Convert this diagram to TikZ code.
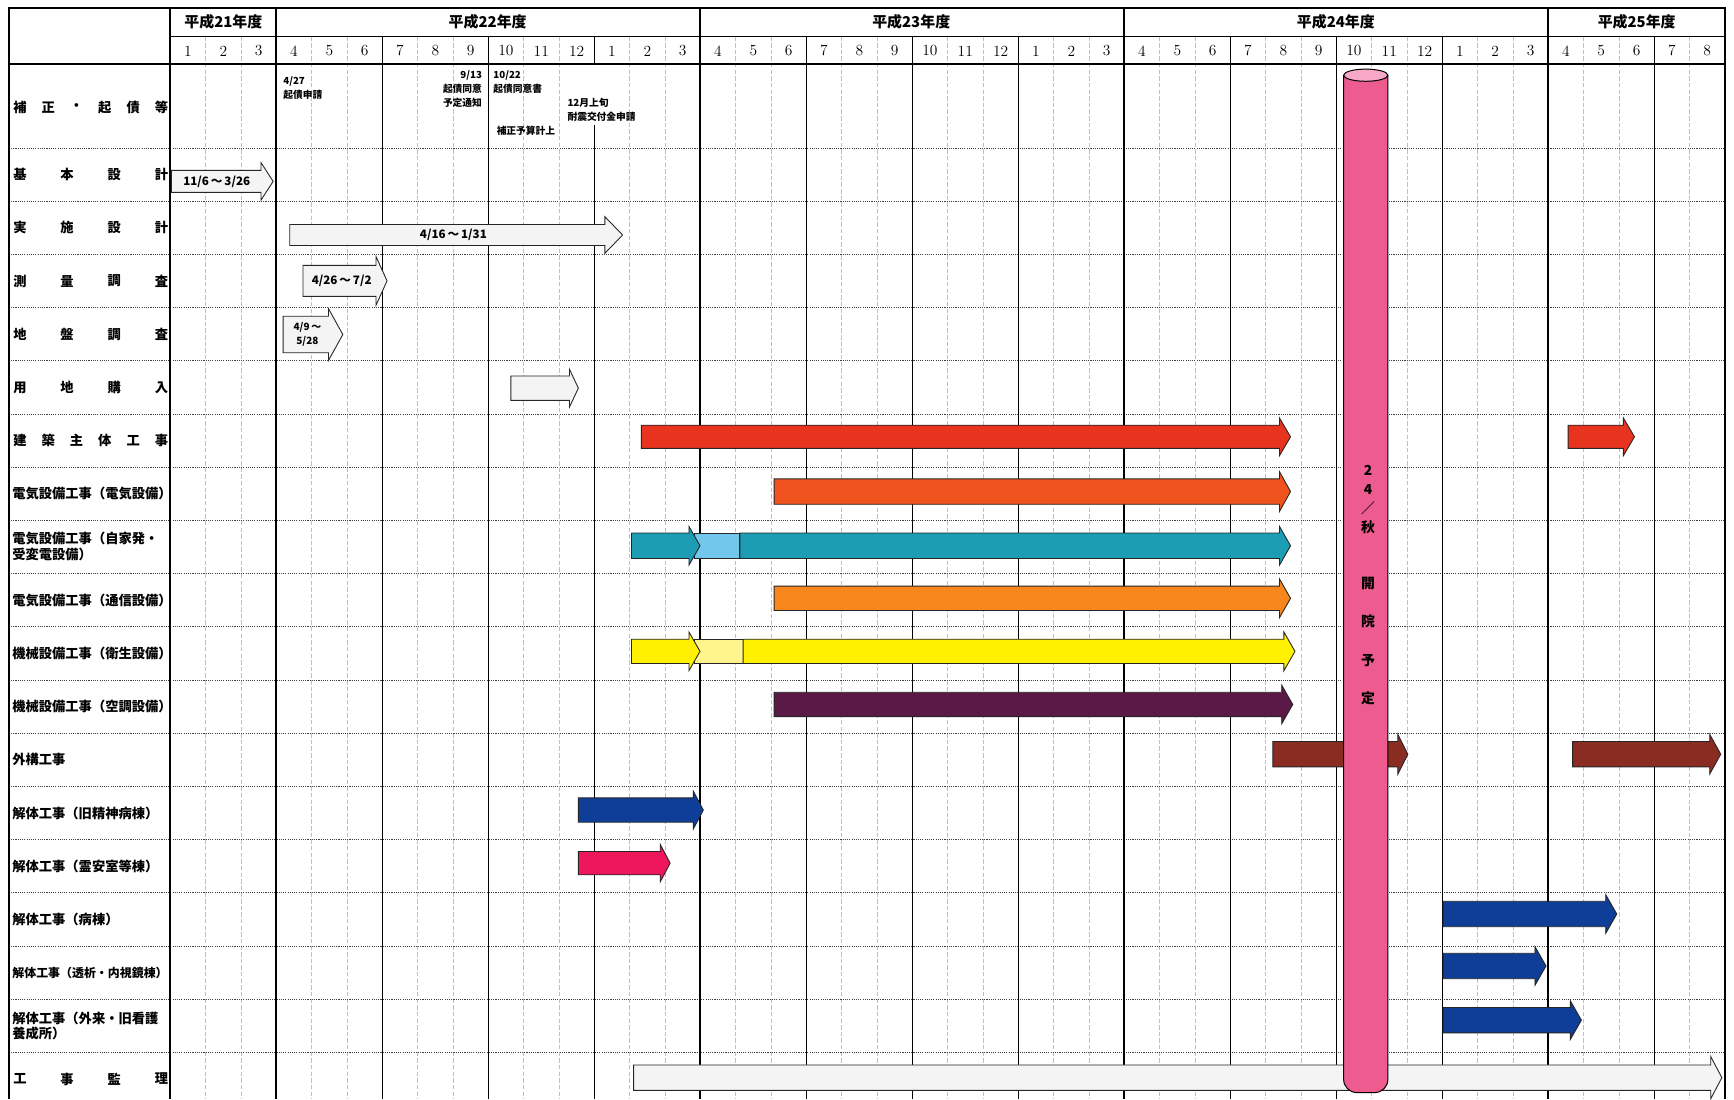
\documentclass[tikz,border=0pt]{standalone}
\usepackage{fontspec}
\newfontfamily\cjk{Noto Sans CJK JP}
\definecolor{cred}{HTML}{E8341F}
\definecolor{corr}{HTML}{F0521E}
\definecolor{cteal}{HTML}{1C9DB3}
\definecolor{clblue}{HTML}{72C8EC}
\definecolor{corange}{HTML}{F7871C}
\definecolor{cyellow}{HTML}{FFF100}
\definecolor{clyellow}{HTML}{FFF58C}
\definecolor{cpurple}{HTML}{5B1947}
\definecolor{cbrown}{HTML}{8A2C22}
\definecolor{cblue}{HTML}{0E3E97}
\definecolor{cpink}{HTML}{EF175B}
\definecolor{ccyl}{HTML}{EE5C8F}
\definecolor{ccyltop}{HTML}{F7A8C6}
\definecolor{cwhite}{HTML}{F4F4F4}
% #1 style, #2 left x, #3 tip x, #4 centre y, #5 body half height, #6 head half height, #7 head length
\newcommand{\garr}[7]{%
  \draw[#1] ({#2},{#4-#5}) -- ({#3-#7},{#4-#5}) -- ({#3-#7},{#4-#6}) -- ({#3},{#4})
    -- ({#3-#7},{#4+#6}) -- ({#3-#7},{#4+#5}) -- ({#2},{#4+#5}) -- cycle;}
\begin{document}
\begin{tikzpicture}[x=1pt,y=-1pt,
  bar/.style={draw=black!85,line width=0.8pt,line join=miter},
  mline/.style={gray!50,line width=0.6pt,dash pattern=on 4pt off 2pt},
  qline/.style={black,line width=1.1pt},
  yline/.style={black,line width=1.6pt},
  rline/.style={black!75,line width=0.9pt,dash pattern=on 1pt off 1pt},
  lbl/.style={font=\cjk\bfseries\fontsize{12}{14}\selectfont,inner sep=0pt},
  lbls/.style={font=\cjk\bfseries\fontsize{10.8}{13}\selectfont,inner sep=0pt},
  ann/.style={font=\cjk\bfseries\fontsize{8.8}{12.5}\selectfont,inner sep=0pt},
  hdr/.style={font=\cjk\bfseries\fontsize{13.5}{15}\selectfont,inner sep=0pt},
  mon/.style={font=\fontsize{14}{15}\selectfont,inner sep=0pt},
  atxt/.style={font=\cjk\bfseries\fontsize{10.5}{13}\selectfont,inner sep=0pt,align=center},
  cyltxt/.style={font=\cjk\bfseries\fontsize{12.5}{13}\selectfont,inner sep=0pt},
]
\fill[white] (0,0) rectangle (1568,994);
\useasboundingbox (0,0) rectangle (1568,994);

% ---------- grid ----------
\foreach \i in {1,2,4,5,7,8,10,11,13,14,16,17,19,20,22,23,25,26,28,29,31,32,34,35,37,38,40,41,43}
  \draw[mline] ({154+31.95*\i},33) -- ({154+31.95*\i},994);
\foreach \k in {0,...,17}
  \draw[rline] (8,{134+48.1*\k}) -- (1560,{134+48.1*\k});
\foreach \i in {6,9,12,18,21,24,30,33,36,42}
  \draw[qline] ({154+31.95*\i},33) -- ({154+31.95*\i},994);
\fill[white] (531,59) rectangle (544,113);
\foreach \i in {0,3,15,27,39}
  \draw[yline] ({154+31.95*\i},7) -- ({154+31.95*\i},994);
\draw[yline] (8,994) -- (8,7) -- (1560,7) -- (1560,994);
\draw[black,line width=0.9pt] (154,33) -- (1560,33);
\draw[yline] (8,58) -- (1560,58);

% ---------- header ----------
\node[hdr] (y21) at (202,20) {平成21年度};
\node[hdr] (y22) at (441,20) {平成22年度};
\node[hdr] (y23) at (824,20) {平成23年度};
\node[hdr] (y24) at (1208,20) {平成24年度};
\node[hdr] (y25) at (1480,20) {平成25年度};
\foreach \m [count=\i from 0] in {1,2,3,4,5,6,7,8,9,10,11,12,1,2,3,4,5,6,7,8,9,10,11,12,1,2,3,4,5,6,7,8,9,10,11,12,1,2,3,4,5,6,7,8}
  \node[mon] (m\i) at ({154+31.95*(\i+0.5)},46) {\m};

% ---------- row labels ----------
\foreach \c [count=\j from 0] in {補,正,・,起,債,等}
  \node[lbl] (r0c\j) at ({18+128*\j/5},97) {\c};
\foreach \c [count=\j from 0] in {基,本,設,計}
  \node[lbl] (r1c\j) at ({18+128*\j/3},158) {\c};
\foreach \c [count=\j from 0] in {実,施,設,計}
  \node[lbl] (r2c\j) at ({18+128*\j/3},206.1) {\c};
\foreach \c [count=\j from 0] in {測,量,調,査}
  \node[lbl] (r3c\j) at ({18+128*\j/3},254.2) {\c};
\foreach \c [count=\j from 0] in {地,盤,調,査}
  \node[lbl] (r4c\j) at ({18+128*\j/3},302.3) {\c};
\foreach \c [count=\j from 0] in {用,地,購,入}
  \node[lbl] (r5c\j) at ({18+128*\j/3},350.4) {\c};
\foreach \c [count=\j from 0] in {建,築,主,体,工,事}
  \node[lbl] (r6c\j) at ({18+128*\j/5},398.5) {\c};
\node[lbl,anchor=west] (r7) at (11,446.6) {電気設備工事（電気設備）};
\node[lbl,anchor=west,align=left] (r8) at (11,494.2) {電気設備工事（自家発・\\受変電設備）};
\node[lbl,anchor=west] (r9) at (11,542.8) {電気設備工事（通信設備）};
\node[lbl,anchor=west] (r10) at (11,590.9) {機械設備工事（衛生設備）};
\node[lbl,anchor=west] (r11) at (11,639) {機械設備工事（空調設備）};
\node[lbl,anchor=west] (r12) at (11,687.1) {外構工事};
\node[lbl,anchor=west] (r13) at (11,735.2) {解体工事（旧精神病棟）};
\node[lbl,anchor=west] (r14) at (11,783.3) {解体工事（霊安室等棟）};
\node[lbl,anchor=west] (r15) at (11,831.4) {解体工事（病棟）};
\node[lbls,anchor=west] (r16) at (11,879.5) {解体工事（透析・内視鏡棟）};
\node[lbl,anchor=west,align=left] (r17) at (11,927.6) {解体工事（外来・旧看護\\養成所）};
\foreach \c [count=\j from 0] in {工,事,監,理}
  \node[lbl] (r18c\j) at ({18+128*\j/3},975.7) {\c};

% ---------- annotations (top row) ----------
\node[ann,anchor=north west,align=left] (a1) at (256,69) {4/27\\起債申請};
\node[ann,anchor=north east,align=right] (a2) at (436,64) {9/13\\起債同意\\予定通知};
\node[ann,anchor=north west,align=left] (a3) at (446,64) {10/22\\起債同意書};
\node[ann,anchor=west] (a4) at (449,118) {補正予算計上};
\node[ann,anchor=north west,align=left] (a5) at (513,89) {12月上旬\\耐震交付金申請};

% ---------- bars ----------
\garr{bar,fill=cwhite}{155}{247}{164}{10}{17}{11}
\node[atxt] (t1) at (196,164) {11/6\,～\,3/26};
\garr{bar,fill=cwhite}{262}{563}{212.5}{9.5}{16.5}{16}
\node[atxt] (t2) at (410,212.5) {4/16\,～\,1/31};
\garr{bar,fill=cwhite}{274}{350}{254}{14}{22}{10}
\node[atxt] (t3) at (309,254) {4/26\,～\,7/2};
\garr{bar,fill=cwhite}{256}{310}{302.5}{16.5}{23.5}{13}
\node[atxt,font=\cjk\bfseries\fontsize{9}{13}\selectfont] (t4) at (278,302.5) {4/9\,～\\5/28};
\garr{bar,fill=cwhite}{462}{523}{351}{11}{17}{8}

\garr{bar,fill=cred}{580}{1167}{395}{10.5}{17}{10}
\garr{bar,fill=cred}{1418}{1478}{395}{10.5}{17}{10}
\garr{bar,fill=corr}{700}{1167}{444.5}{11.5}{18}{10}

\draw[bar,fill=clblue] (628,482) rectangle (669,505);
\garr{bar,fill=cteal}{571}{633}{493.5}{11.5}{17.5}{10}
\garr{bar,fill=cteal}{669}{1167}{493.5}{11.5}{17.5}{10}

\garr{bar,fill=corange}{700}{1167}{541}{11}{17.5}{10}

\draw[bar,fill=clyellow] (628,578) rectangle (672,600);
\garr{bar,fill=cyellow}{571}{633}{589}{11}{17.5}{10}
\garr{bar,fill=cyellow}{672}{1171}{589}{11}{17.5}{10}

\garr{bar,fill=cpurple}{700}{1169}{637}{11}{17.5}{10}
\garr{bar,fill=cbrown}{1151}{1273}{682}{11.5}{18}{9}
\garr{bar,fill=cbrown}{1422}{1556}{682}{11.5}{18}{10}
\garr{bar,fill=cblue}{523}{636}{732.5}{11}{17}{9}
\garr{bar,fill=cpink}{523}{606}{780.5}{10.5}{17}{9}
\garr{bar,fill=cblue}{1305}{1462}{826.5}{11.5}{17.5}{10}
\garr{bar,fill=cblue}{1305}{1398}{873.5}{11.5}{17.5}{10}
\garr{bar,fill=cblue}{1305}{1430}{922.5}{11.5}{17.5}{10}
\garr{bar,fill=cwhite}{573}{1557}{974.5}{11.5}{19}{10}

% ---------- opening cylinder ----------
\draw[fill=ccyl,line width=0.9pt,rounded corners=12pt] (1215,68) -- (1215,988) -- (1255,988) -- (1255,68);
\draw[fill=ccyltop,line width=0.9pt] (1235,68) ellipse [x radius=20,y radius=5.5];
\node[cyltxt] (k1) at (1237,425) {2};
\node[cyltxt] (k2) at (1237,443) {4};
\node[cyltxt] (k3) at (1237,460) {／};
\node[cyltxt] (k4) at (1237,477) {秋};
\node[cyltxt] (k5) at (1237,528) {開};
\node[cyltxt] (k6) at (1237,562) {院};
\node[cyltxt] (k7) at (1237,597) {予};
\node[cyltxt] (k8) at (1237,631) {定};
\end{tikzpicture}
\end{document}
